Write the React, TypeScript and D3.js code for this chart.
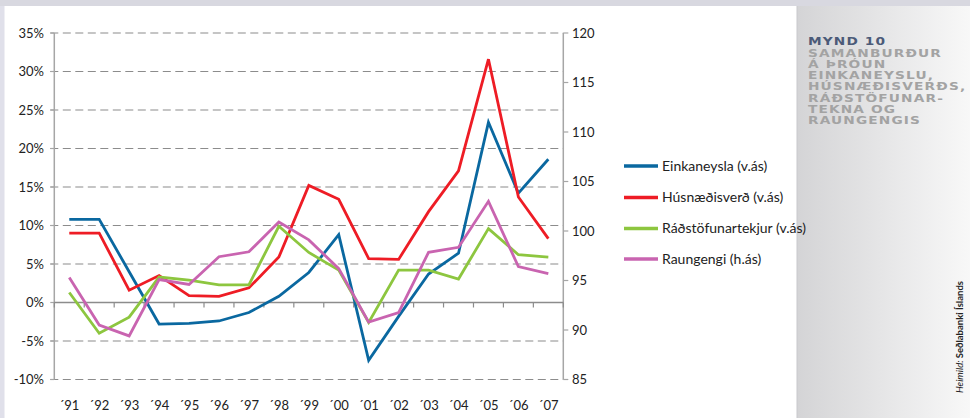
import React from "react";
import * as d3 from "d3";

const years = ["91","92","93","94","95","96","97","98","99","00","01","02","03","04","05","06","07"];
const einkaneysla = [10.8,10.8,4.0,-2.8,-2.7,-2.4,-1.3,0.8,3.9,8.8,-7.5,-1.8,3.7,6.4,23.4,14.2,18.6];
const husnaedisverd = [9.0,9.0,1.6,3.5,0.9,0.8,1.9,5.9,15.2,13.4,5.7,5.6,11.8,17.1,31.6,13.7,8.3];
const radstofunartekjur = [1.3,-4.0,-1.9,3.3,2.9,2.3,2.3,9.9,6.5,4.2,-2.6,4.2,4.2,3.05,9.6,6.2,5.9];
const raungengi = [95.3,90.5,89.4,95.1,94.6,97.4,97.9,100.9,99.1,96.2,90.8,91.75,97.85,98.35,103.0,96.4,95.7];
const leftTicks = [35,30,25,20,15,10,5,0,-5,-10];
const rightTicks = [120,115,110,105,100,95,90,85];
const titleLines = ["SAMANBURÐUR","Á ÞRÓUN","EINKANEYSLU,","HÚSNÆÐISVERÐS,","RÁÐSTÖFUNAR-","TEKNA OG","RAUNGENGIS"];

const series = [
  { name: "Einkaneysla (v.ás)", values: einkaneysla, color: "#0a68a0", axis: "L" },
  { name: "Húsnæðisverð (v.ás)", values: husnaedisverd, color: "#ee1c25", axis: "L" },
  { name: "Ráðstöfunartekjur (v.ás)", values: radstofunartekjur, color: "#8dc63f", axis: "L" },
  { name: "Raungengi (h.ás)", values: raungengi, color: "#c964b0", axis: "R" },
];

const FONT = "Lato, 'Open Sans', sans-serif";

export default function App() {
  const x0 = 54.3, x1 = 563.3, yTop = 33, yBot = 379.5;
  const x = d3.scaleBand<string>().domain(years).range([x0, x1]).padding(0);
  const cx = (i: number) => (x(years[i]) as number) + x.bandwidth() / 2;
  const yL = d3.scaleLinear().domain([-10, 35]).range([yBot, yTop]);
  const yR = d3.scaleLinear().domain([85, 120]).range([yBot, yTop]);
  const lineFor = (s: typeof series[number]) =>
    d3.line<number>().x((_, i) => cx(i)).y((v) => (s.axis === "L" ? yL(v) : yR(v)))(s.values) || "";

  return (
    <svg width={970} height={418} style={{ position: "absolute", left: 0, top: 0 }} fontFamily={FONT}>
      <defs>
        <linearGradient id="side" x1="0" x2="1" y1="0" y2="0">
          <stop offset="0" stopColor="#d4d4d6" />
          <stop offset="1" stopColor="#f8f8f8" />
        </linearGradient>
      </defs>
      <rect x={0} y={0} width={970} height={418} fill="#ffffff" />
      <rect x={0} y={0} width={4.5} height={418} fill="#e0e0ea" />
      <rect x={0} y={0} width={970} height={6} fill="#d8d8e0" />
      <rect x={797} y={6} width={173} height={412} fill="url(#side)" />
      <line x1={797} x2={797} y1={6} y2={418} stroke="#c8c8cc" strokeWidth={1} />

      {/* gridlines */}
      {leftTicks.filter((t) => t !== 0).map((t) => (
        <line key={"g" + t} x1={x0 - 4} x2={x1} y1={yL(t)} y2={yL(t)} stroke="#8c8c8c" strokeWidth={1.2} strokeDasharray="8,4.5" />
      ))}
      {/* left axis */}
      <line x1={x0} x2={x0} y1={yTop} y2={yBot} stroke="#a6a6a6" strokeWidth={1.5} />
      {leftTicks.map((t) => (
        <g key={"lt" + t}>
          <line x1={x0 - 4} x2={x0} y1={yL(t)} y2={yL(t)} stroke="#a6a6a6" strokeWidth={1.2} />
          <text x={44} y={yL(t)} dy="0.35em" textAnchor="end" fontSize={13} fill="#222">{t + "%"}</text>
        </g>
      ))}
      {/* right axis */}
      <line x1={x1} x2={x1} y1={yTop} y2={yBot} stroke="#a6a6a6" strokeWidth={1.5} />
      {rightTicks.map((t) => (
        <g key={"rt" + t}>
          <line x1={x1} x2={x1 + 5} y1={yR(t)} y2={yR(t)} stroke="#a6a6a6" strokeWidth={1.2} />
          <text x={572} y={yR(t)} dy="0.35em" textAnchor="start" fontSize={13} fill="#222">{t}</text>
        </g>
      ))}
      {/* zero axis */}
      <line x1={x0} x2={x1} y1={yL(0)} y2={yL(0)} stroke="#8c8c8c" strokeWidth={1.3} />
      {years.map((yr) => (
        <line key={"xt" + yr} x1={x(yr) as number} x2={x(yr) as number} y1={yL(0)} y2={yL(0) + 5} stroke="#8c8c8c" strokeWidth={1.2} />
      ))}
      <line x1={x1} x2={x1} y1={yL(0)} y2={yL(0) + 5} stroke="#8c8c8c" strokeWidth={1.2} />
      {years.map((yr, i) => (
        <text key={"xl" + yr} x={cx(i)} y={405} dy="0.35em" textAnchor="middle" fontSize={13} fill="#222">{"´" + yr}</text>
      ))}

      {/* series */}
      {series.map((s) => (
        <path key={s.name} d={lineFor(s)} fill="none" stroke={s.color} strokeWidth={2.8} strokeLinejoin="miter" />
      ))}

      {/* legend */}
      {series.map((s, i) => {
        const ly = [166, 197.5, 228.5, 259][i];
        return (
          <g key={"lg" + i}>
            <line x1={624} x2={658} y1={ly} y2={ly} stroke={s.color} strokeWidth={3.5} />
            <text x={662} y={ly} dy="0.35em" fontSize={14} fill="#222">{s.name}</text>
          </g>
        );
      })}

      {/* sidebar title */}
      <g transform="translate(808,0) scale(1.27,1)" fontFamily="'DejaVu Sans', sans-serif" fontWeight="bold" fontSize={10.8} letterSpacing={0.9}>
        <text x={0} y={45} fill="#4b5a78">MYND 10</text>
        {titleLines.map((l, i) => (
          <text key={l} x={0} y={56.6 + i * 11.3} fill="#a3a3a3">{l}</text>
        ))}
      </g>
      <text transform="translate(963,393) rotate(-90)" fontSize={9.5} fill="#222" fontFamily={FONT}>
        <tspan fontStyle="italic">Heimild: </tspan>
        <tspan fontWeight="bold">Seðlabanki Íslands</tspan>
      </text>
    </svg>
  );
}
